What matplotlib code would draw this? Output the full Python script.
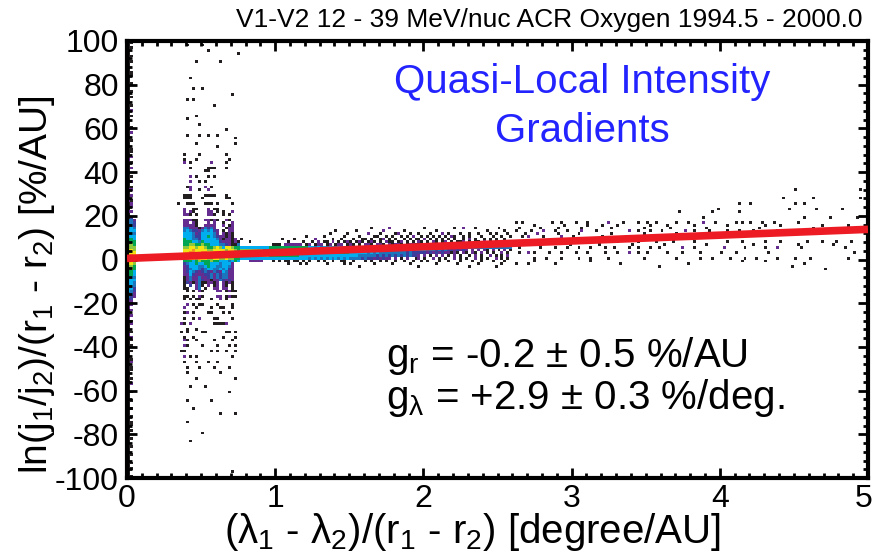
import numpy as np
import matplotlib
matplotlib.use("Agg")
import matplotlib.pyplot as plt
from matplotlib.colors import ListedColormap, BoundaryNorm
from matplotlib.ticker import MultipleLocator

plt.rcParams['font.family'] = ['Liberation Sans', 'DejaVu Sans']
plt.rcParams['mathtext.fontset'] = 'custom'
plt.rcParams['mathtext.rm'] = 'Liberation Sans'
plt.rcParams['mathtext.it'] = 'Liberation Sans:italic'
plt.rcParams['mathtext.default'] = 'regular'
plt.rcParams['axes.unicode_minus'] = False

# ---- data ----------------------------------------------------------------
# 2D histogram, bins of 0.02 deg/AU x 1.25 %/AU
# cell level: 1 black, 2 purple, 3 indigo, 4 blue, 5 cyan, 6 green,
#             7 yellow-green, 8 yellow, 9 orange ; '.' empty
level_colors = ['#231f20', '#662d91', '#3a3f9e', '#1c75bc', '#00aeef',
                '#00a651', '#8dc63f', '#f2e313', '#f7941d']

# left edge columns (x = 0-0.06), read top (y=100) to bottom (y=-100)
left_cols = [
    "1111111111|1111111111|1111111111|1111111111|1112111111|1111211121|"
    "1121144445|5566778889|8877665555|5544321211|1211111211|1111111111|"
    "1111111111|1111111111|1111111111|1111111111",
    "1.1..1.1..|.11..1..1.|1..1.2.1..|.1.2..1..1|1.2.1.2..1|.2.12.2.12|"
    "2.2.344455|5566778899|8877665555|5443322.2.|2.12..1.21|.1.1..12.1|"
    "1..1.2..1.|.1..1..1.1|1.1..1..1.|.1..1.1..1",
    "..........|..........|..........|..........|..........|..........|"
    ".....23345|4556677887|7766554544|3322......|..........|..........|"
    "..........|..........|..........|..........",
]

# dense core of the block at 0.38-0.76 deg/AU, rows from y=15.6 downwards
block_x0 = 0.38
block_y_top = 15.625
block_rows = [
    "22221..2222..2.12..",
    "44222124342...122..",
    "454332454532.1.22..",
    "555423555542.2121..",
    "55543355654322121..",
    "655443555554212212.",
    "6665546555553222121",
    "6677667665554432114",
    "7788788766787588766",
    "8889888877888878876",
    "8899889988888888887",
    "8899989988988888887",
    "7788788877887787766",
    "6665676667665554565",
    "34556556655545552..",
    "23555445655445542..",
    "23455434554454532..",
    "23543234324325422..",
    "22532223342434422..",
    "12422422342434422..",
    "12422432212243232..",
    "132124112212.2121..",
    "1.3.241.2.12.21.1..",
    "11..24.1..22.22.1..",
    ".1.1.21....22.1211.",
]

# narrow band from 0.76 to 2.6 deg/AU, rows from y=14.4 downwards
band_x0 = 0.76
band_y_top = 14.375
band_rows = [
    "..........|..........|..........|..........|....1.....|2.........|..1.......|..1..2...1|.......1..|..",
    "..........|..........|..........|..1......1|........2.|.....1....|......1...|..........|...1.....1|..",
    "..........|..........|..........|1.....1...|...2...1..|..12...1..|1...1...2.|1...1..1..|1...1.1...|1.",
    "..........|..........|..1.....1.|.....1....|1....11..1|.1..1.1.2.|.1.1.1.1.1|.21..1.1..|.1...1..1.|.1",
    "1.........|....1...1.|.....2....|.1..1...1.|.11.1..12.|1.1..1.1.1|1.2.1.1.1.|1.1..1.2.1|..1.1.1..1|..",
    "...1......|......1...|.1..1.2.11|.2.1.121.1|21.121.1.2|11.12.1.1.|21.1.21.12|.1.112.1.1|1.2.1.1.1.|1.",
    "..........|.111.22222|2.12.122.1|2.122.121.|1.221.221.|21221.1221|12121211.1|3232323232|3232323232|32",
    "5555555555|6666666666|6665545454|5545445544|4434445344|4443435555|4444444444|4444444444|4444444444|44",
    "7777777766|6666666666|6666666666|6666555555|5555555555|5555555555|5554443434|3323232.2.|2.21.2.1.2|.1",
    "8888888888|8887888877|7777777777|7766666555|5554545444|4444443433|3332323232|2121.21.21|.2.1.1..2.|1.",
    "8888777777|6666666666|5555555555|5555555555|4444443434|3434343433|2.2.1.2.2.|1.2.1..1.2|.1..2.1.1.|2.",
    "5555555555|5555555555|5554545454|5454545444|4343323232|2.2.1.2..1|2.1..2.1.1|..2.1.1..2|.1.1..2.1.|1.",
    "...22222..|.1.1.11.11|.1.1..1.1.|.1..11..1.|..1.1..1.1|..1..1..1.|.1.1...1..|1...1...1.|.1...1...1|..",
    "..........|......1...|1.1......1|.....1.1..|.....1....|.1.....1..|......1...|...1......|1.......1.|..",
    "..........|..........|..........|..........|1.........|..........|1.........|.......1..|......1...|..",
]

# sparse cells of the block: (y, black x values, purple x values)
block_sparse = [
    (98.0, [0.40, 0.50], []), (96.0, [0.54], []), (94.5, [0.74], []),
    (90.0, [0.46, 0.62], []), (83.7, [0.43], []), (78.0, [0.44, 0.50], []),
    (75.7, [0.71], []), (73.7, [0.40, 0.44], []), (70.0, [0.58], []),
    (65.8, [0.47], []), (64.0, [0.40], []), (61.5, [0.48], []),
    (59.6, [0.67], []), (57.0, [0.40, 0.48, 0.54, 0.61], []), (56.0, [0.72], []),
    (53.5, [0.46], []), (52.6, [0.72], []), (51.7, [0.61], []),
    (48.0, [0.39, 0.49, 0.67], []), (46.0, [0.39, 0.47, 0.69], []),
    (44.0, [0.43, 0.67], [0.39, 0.57]), (42.0, [0.43, 0.55, 0.57, 0.59, 0.67], []),
    (40.0, [0.53, 0.55], []), (37.5, [0.47, 0.55, 0.59], [0.43]),
    (35.0, [0.49, 0.53], [0.43]), (33.4, [0.41, 0.57], [0.43, 0.53]),
    (31.4, [0.49], [0.43, 0.55]),
    (29.4, [0.39, 0.41, 0.43, 0.53, 0.55, 0.57, 0.59, 0.67], []),
    (27.6, [0.39, 0.41, 0.43, 0.51, 0.67, 0.69], []),
    (25.7, [0.35, 0.41, 0.43, 0.45, 0.53, 0.55, 0.57, 0.61, 0.71], []),
    (23.7, [0.45, 0.47, 0.59, 0.61], [0.39, 0.55]),
    (21.8, [0.45, 0.61, 0.65], [0.39, 0.43, 0.55, 0.57, 0.71]),
    (20.0, [0.43, 0.47, 0.59, 0.65, 0.69], [0.39, 0.41, 0.55, 0.57]),
    (18.1, [0.45, 0.47, 0.57, 0.61, 0.69], [0.39, 0.41, 0.43, 0.53, 0.55, 0.59, 0.67]),
    (16.9, [0.47, 0.65], [0.39, 0.41, 0.45, 0.55, 0.59, 0.71]),
    (-16.5, [0.39, 0.41, 0.45, 0.51, 0.67, 0.71, 0.73], [0.49, 0.61, 0.63, 0.69]),
    (-18.3, [0.39, 0.43, 0.47, 0.49, 0.57, 0.67], [0.63]),
    (-20.1, [0.45, 0.49, 0.51, 0.61, 0.71], [0.41]),
    (-22.1, [0.47, 0.57, 0.63, 0.65, 0.71], [0.39]),
    (-24.4, [0.39, 0.45, 0.55, 0.57, 0.65, 0.69], [0.41]),
    (-26.7, [0.39, 0.45, 0.59, 0.61, 0.71], [0.49]),
    (-29.0, [0.39, 0.59, 0.61, 0.63, 0.65], [0.37, 0.43, 0.67]),
    (-31.3, [0.41, 0.47], []),
    (-33.3, [0.37, 0.41, 0.51, 0.53, 0.67, 0.69, 0.73], []),
    (-35.4, [0.39, 0.45, 0.65, 0.73], []),
    (-37.4, [0.41, 0.47, 0.59, 0.71], [0.39]),
    (-39.7, [0.41, 0.51, 0.61, 0.69, 0.73], [0.39]),
    (-42.0, [0.37, 0.39, 0.57, 0.61, 0.67, 0.73], []),
    (-44.3, [0.43, 0.47, 0.71], [0.39]),
    (-46.6, [0.39, 0.47, 0.55, 0.61], []),
    (-48.9, [0.41, 0.49, 0.59, 0.69], []),
    (-52.0, [0.40, 0.63], []), (-55.0, [0.46, 0.72], []), (-58.0, [0.42, 0.52], []),
    (-61.0, [0.68], []), (-64.0, [0.40, 0.57], []), (-68.0, [0.45], []),
    (-71.0, [0.62, 0.73], []), (-75.0, [0.41], []), (-79.0, [0.50], []),
    (-83.5, [0.42], []), (-97.0, [0.70], []),
]

# sparse cells of the band beyond 2.6 deg/AU: (y, black x values, purple x values)
band_sparse = [
    (31.3, [4.50, 4.94], []),
    (27.5, [4.43, 4.63, 4.94], []),
    (25.2, [4.12, 4.20, 4.50, 4.57], []),
    (23.2, [3.98, 4.46, 4.64, 4.83], []),
    (21.4, [3.72, 3.94, 4.12], []),
    (19.6, [3.88, 4.57, 4.75, 4.93], []),
    (17.1, [2.62, 2.67, 2.86, 2.93, 3.03, 3.11, 3.34, 3.44, 3.51, 3.57, 3.71,
            3.79, 3.96, 4.10, 4.14, 4.20, 4.28, 4.37, 4.52], [3.24, 3.89]),
    (15.3, [2.75, 2.95, 3.11, 3.20, 3.30, 3.53, 3.65, 3.83, 4.05, 4.30, 4.41,
            4.68, 4.86], []),
    (14.2, [2.64, 2.78, 2.91, 3.06, 3.26, 3.48, 3.67, 3.90, 4.27, 4.62], []),
    (13.0, [2.63, 2.72, 2.88, 2.97, 3.17, 3.44, 3.53, 3.60, 3.83, 3.92, 4.05,
            4.13, 4.23, 4.59, 4.72, 4.90], [2.80, 3.07, 3.38, 3.76, 4.39]),
    (11.5, [2.68, 2.90, 3.05, 3.27, 3.49, 3.70], [2.76]),
    (10.2, [2.66, 2.81, 3.00, 3.20, 3.36], [2.71, 2.92]),
    (8.4, [2.70, 2.85, 3.15, 3.30, 3.45, 3.56, 3.68, 3.83, 4.05, 4.14, 4.31,
           4.41, 4.59, 4.68, 4.79, 4.88], [3.00]),
    (6.8, [2.78, 2.98, 3.18, 3.40, 3.62, 3.90, 4.22, 4.52, 4.76], []),
    (5.4, [2.65, 2.79, 2.89, 2.97, 3.05, 3.13, 3.23, 3.29, 3.38, 3.44, 3.52,
           3.58, 3.83, 4.16, 4.30, 4.55, 4.84], [3.75, 4.02, 4.39]),
    (3.1, [2.65, 2.75, 2.84, 2.93, 3.02, 3.11, 3.22, 3.31, 3.44, 3.51, 3.65,
           3.74, 3.87, 4.01, 4.10, 4.32, 4.91], [3.38, 2.70]),
    (1.1, [2.75, 2.82, 2.93, 3.04, 3.13, 3.24, 3.49, 3.71, 3.86, 3.95, 4.07,
           4.16, 4.24, 4.39, 4.50, 4.61, 4.86], []),
    (-0.8, [2.75, 3.13, 4.14, 4.30], []),
    (-1.8, [2.62, 2.70, 2.89, 3.33, 3.79, 4.57], []),
    (-2.7, [3.58, 4.48], []),
    (-4.6, [4.70], []),
]

# fitted gradient line
line_x = [0.0, 5.0]
line_y = [0.5, 13.8]

x_ticks = [0, 1, 2, 3, 4, 5]
x_tick_labels = ['0', '1', '2', '3', '4', '5']
title = "V1-V2 12 - 39 MeV/nuc ACR Oxygen 1994.5 - 2000.0"
x_label = r"($\lambda_1$ - $\lambda_2$)/(r$_1$ - r$_2$) [degree/AU]"
y_label = r"ln(j$_1$/j$_2$)/(r$_1$ - r$_2$) [%/AU]"
fit_lines = [r"g$_r$ = -0.2 ± 0.5 %/AU", r"g$_\lambda$ = +2.9 ± 0.3 %/deg."]

# ---- build the histogram image --------------------------------------------
x_step, y_step = 0.02, 1.25
x_edges = np.arange(0, 5 + x_step / 2, x_step)
y_edges = np.arange(-100, 100 + y_step / 2, y_step)
grid = np.zeros((len(y_edges) - 1, len(x_edges) - 1))


def put(x, y, lev):
    j = int(np.floor(x / x_step + 1e-9))
    i = int(np.floor((y + 100) / y_step + 1e-9))
    if 0 <= i < grid.shape[0] and 0 <= j < grid.shape[1]:
        grid[i, j] = max(grid[i, j], lev)


def put_rows(rows, x0, y_top):
    for r, row in enumerate(rows):
        for k, ch in enumerate(row.replace('|', '')):
            if ch != '.':
                put(x0 + (k + 0.5) * x_step, y_top - r * y_step, int(ch))


for c, col in enumerate(left_cols):
    for t, ch in enumerate(col.replace('|', '')):
        if ch != '.':
            put((c + 0.5) * x_step, 99.375 - t * y_step, int(ch))

put_rows(block_rows, block_x0, block_y_top)
put_rows(band_rows, band_x0, band_y_top)
for y, blacks, purples in block_sparse + band_sparse:
    for x in blacks:
        put(x, y, 1)
    for x in purples:
        put(x, y, 2)

# ---- plot -------------------------------------------------------------------
fig = plt.figure(figsize=(8.75, 5.59), dpi=100)
ax = fig.add_axes([127 / 875, 1 - 478 / 559, 741 / 875, 437 / 559])

cmap = ListedColormap(level_colors)
norm = BoundaryNorm(np.arange(0.5, 10.5, 1), cmap.N)
ax.pcolormesh(x_edges, y_edges, np.ma.masked_equal(grid, 0), cmap=cmap, norm=norm)

ax.plot(line_x, line_y, color='#ed1c24', lw=5.5, solid_capstyle='butt', zorder=3)

ax.set_xlim(0, 5)
ax.set_ylim(-100, 100)
# last label sits at the figure edge, so it is drawn separately a bit to the left
ax.set_xticks(x_ticks, x_tick_labels[:-1] + [''])
ax.annotate(x_tick_labels[-1], xy=(x_ticks[-1], 0), xycoords=('data', 'axes fraction'),
            xytext=(-3.5, -4), textcoords='offset points', ha='center', va='top',
            fontsize=23)
ax.xaxis.set_minor_locator(MultipleLocator(0.1))
ax.yaxis.set_major_locator(MultipleLocator(20))
ax.yaxis.set_minor_locator(MultipleLocator(4))
ax.tick_params(which='both', direction='in', top=True, right=True, width=2,
               labelsize=23)
ax.tick_params(which='major', length=7.5)
ax.tick_params(which='minor', length=3.5)
ax.tick_params(axis='y', pad=6)
ax.tick_params(axis='x', pad=4)
for sp in ax.spines.values():
    sp.set_linewidth(3)

fig.text(549 / 875, 1 - 27 / 559, title, ha='center', va='baseline', fontsize=19)
fig.text(473 / 875, 1 - 543 / 559, x_label, ha='center', va='baseline', fontsize=29)
fig.text(37 / 875, 1 - 285 / 559, y_label, ha='center', va='center',
         rotation=90, fontsize=28)

fig.text(582 / 875, 1 - 82 / 559, "Quasi-Local Intensity", ha='center',
         va='center', color='#2323ff', fontsize=29)
fig.text(582 / 875, 1 - 131 / 559, "Gradients", ha='center', va='center',
         color='#2323ff', fontsize=29)

fig.text(386 / 875, 1 - 367 / 559, fit_lines[0], ha='left', va='baseline', fontsize=29)
fig.text(386 / 875, 1 - 409 / 559, fit_lines[1], ha='left', va='baseline', fontsize=29)

fig.savefig("out.png", dpi=100)
